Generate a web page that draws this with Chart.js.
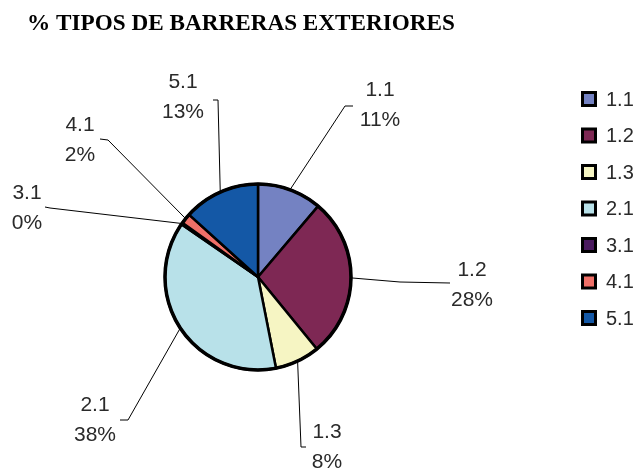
<!DOCTYPE html>
<html>
<head>
<meta charset="utf-8">
<script src="https://cdn.jsdelivr.net/npm/chart.js@4.4.1/dist/chart.umd.min.js"></script>
<style>
  html, body { margin: 0; padding: 0; background: #ffffff; }
  #wrap { width: 638px; height: 468px; }
</style>
</head>
<body>
<div id="wrap"><canvas id="c" width="638" height="468"></canvas></div>
<script>
// ---- data ----
const chartTitle = '% TIPOS DE BARRERAS EXTERIORES';
const categories = ['1.1', '1.2', '1.3', '2.1', '3.1', '4.1', '5.1'];
const percentValues = [11.2, 27.9, 7.8, 37.7, 0.3, 1.8, 13.3];

// ---- styles / layout (not data) ----
const sliceColors = ['#7482c2', '#7e2854', '#f6f5c3', '#b8e1e9', '#4a1a5e', '#f07068', '#1458a6'];
// label text centre and leader elbow / end for each slice
const labelLayout = [
  { tx: 380, ty: 90,  elbow: [345, 106], end: [353, 106] },
  { tx: 472, ty: 270, elbow: [400, 282], end: [450, 283] },
  { tx: 327, ty: 432, elbow: [301, 447], end: [306, 447] },
  { tx: 95,  ty: 405, elbow: [128, 420], end: [120, 420] },
  { tx: 27,  ty: 193, elbow: [50, 208],  end: [45, 207] },
  { tx: 80,  ty: 125, elbow: [108, 140], end: [100, 139] },
  { tx: 183, ty: 82,  elbow: [218, 100], end: [213, 100] }
];
const labelLineGap = 30;
const labelFont = '21px "Liberation Sans", Arial, sans-serif';
const textColor = '#2a2a2a';

const overlayPlugin = {
  id: 'overlay',
  afterDraw(chart) {
    const ctx = chart.ctx;
    const meta = chart.getDatasetMeta(0);
    ctx.save();
    // outer thick border
    const a0 = meta.data[0];
    ctx.beginPath();
    ctx.arc(a0.x, a0.y, a0.outerRadius, 0, Math.PI * 2);
    ctx.lineWidth = 3.5;
    ctx.strokeStyle = '#000';
    ctx.stroke();

    // title
    ctx.fillStyle = '#000';
    ctx.font = 'bold 23px "Liberation Serif", "Times New Roman", serif';
    ctx.textAlign = 'left';
    ctx.textBaseline = 'alphabetic';
    const tw = ctx.measureText(chartTitle).width;
    ctx.save();
    ctx.translate(27, 30);
    ctx.scale(428 / tw, 1);
    ctx.fillText(chartTitle, 0, 0);
    ctx.restore();

    // labels + leader lines
    meta.data.forEach((arc, i) => {
      const lay = labelLayout[i];
      const mid = (arc.startAngle + arc.endAngle) / 2;
      const ex = arc.x + Math.cos(mid) * arc.outerRadius;
      const ey = arc.y + Math.sin(mid) * arc.outerRadius;
      ctx.beginPath();
      ctx.moveTo(ex, ey);
      ctx.lineTo(lay.elbow[0], lay.elbow[1]);
      ctx.lineTo(lay.end[0], lay.end[1]);
      ctx.lineWidth = 1;
      ctx.strokeStyle = '#000';
      ctx.stroke();

      ctx.font = labelFont;
      ctx.fillStyle = textColor;
      ctx.textAlign = 'center';
      ctx.textBaseline = 'middle';
      ctx.fillText(categories[i], lay.tx, lay.ty);
      ctx.fillText(Math.round(percentValues[i]) + '%', lay.tx, lay.ty + labelLineGap);
    });

    // legend
    const lx = 581, ly0 = 99, step = 36.5, box = 16;
    categories.forEach((name, i) => {
      const cy = ly0 + i * step;
      ctx.fillStyle = '#000';
      ctx.fillRect(lx, cy - box / 2, box, box);
      ctx.fillStyle = sliceColors[i];
      ctx.fillRect(lx + 3, cy - box / 2 + 3, box - 6, box - 6);
      ctx.fillStyle = textColor;
      ctx.font = '20px "Liberation Sans", Arial, sans-serif';
      ctx.textAlign = 'left';
      ctx.textBaseline = 'middle';
      ctx.fillText(name, 606, cy + 1);
    });
    ctx.restore();
  }
};

new Chart(document.getElementById('c'), {
  type: 'pie',
  data: {
    labels: categories,
    datasets: [{
      data: percentValues,
      backgroundColor: sliceColors,
      borderColor: '#000000',
      borderWidth: 2.5,
      hoverBorderWidth: 2.5,
      radius: 93
    }]
  },
  options: {
    responsive: false,
    animation: false,
    devicePixelRatio: 1,
    layout: { padding: { left: 158, right: 280, top: 177, bottom: 91 } },
    plugins: {
      legend: { display: false },
      tooltip: { enabled: false },
      title: { display: false }
    }
  },
  plugins: [overlayPlugin]
});
</script>
</body>
</html>
